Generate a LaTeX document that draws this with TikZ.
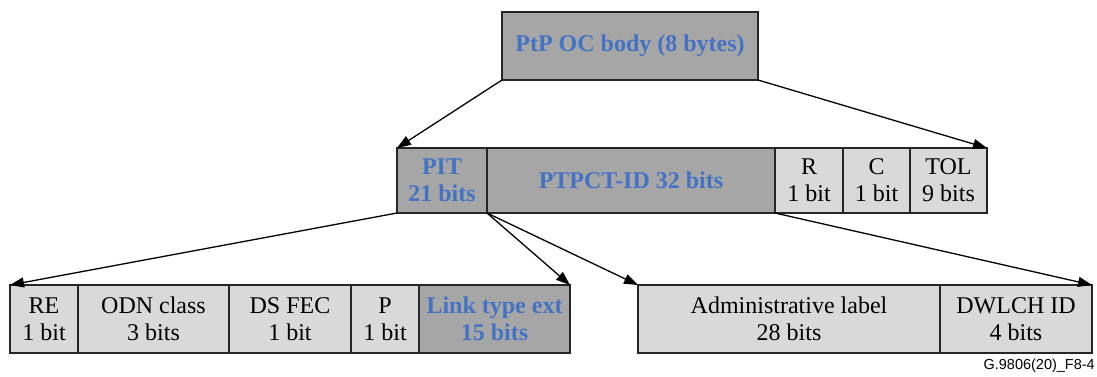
\documentclass[tikz,border=0pt]{standalone}
\usepackage{fontspec}
\setmainfont{Liberation Serif}
\newfontfamily\labelfont{Liberation Sans}
\usetikzlibrary{arrows.meta}
\definecolor{darkfld}{HTML}{A6A6A6}
\definecolor{lightfld}{HTML}{D9D9D9}
\definecolor{bluetxt}{HTML}{4472C4}
\begin{document}
\begin{tikzpicture}[x=1pt,y=-1pt,
  fld/.style={draw=black!85, line width=1.3pt, inner sep=0pt, outer sep=0pt,
    anchor=north west, align=center, font=\fontsize{24}{27}\selectfont},
  darkf/.style={fld, fill=darkfld, text=bluetxt, font=\fontsize{24}{27}\selectfont\bfseries},
  lightf/.style={fld, fill=lightfld, text=black},
  conn/.style={draw=black, line width=1.3pt, -{Triangle[length=14pt,width=10pt]}}
]
\useasboundingbox (0,0) rectangle (1097,376);
% top
\node[darkf, minimum width=256pt, minimum height=68pt] (top) at (502,12) {PtP OC body (8 bytes)};
% middle row
\node[darkf, minimum width=90pt, minimum height=65pt] (pit) at (397,148) {PIT\\21 bits};
\node[darkf, minimum width=288pt, minimum height=65pt] (ptpct) at (487,148) {PTPCT-ID 32 bits};
\node[lightf, minimum width=68pt, minimum height=65pt] (r) at (775,148) {R\\1 bit};
\node[lightf, minimum width=67pt, minimum height=65pt] (c) at (843,148) {C\\1 bit};
\node[lightf, minimum width=77pt, minimum height=65pt] (tol) at (910,148) {TOL\\9 bits};
% bottom row left
\node[lightf, minimum width=68pt, minimum height=68pt] (re) at (10,285) {RE\\1 bit};
\node[lightf, minimum width=151pt, minimum height=68pt] (odn) at (78,285) {ODN class\\3 bits};
\node[lightf, minimum width=122pt, minimum height=68pt] (dsfec) at (229,285) {DS FEC\\1 bit};
\node[lightf, minimum width=68pt, minimum height=68pt] (p) at (351,285) {P\\1 bit};
\node[darkf, minimum width=151pt, minimum height=68pt] (link) at (419,285) {Link type ext\\15 bits};
% bottom row right
\node[lightf, minimum width=302pt, minimum height=68pt] (admin) at (638,285) {Administrative label\\28 bits};
\node[lightf, minimum width=152pt, minimum height=68pt] (dwlch) at (940,285) {DWLCH ID\\4 bits};
% figure label
\node[anchor=east, inner sep=0pt, font=\labelfont\fontsize{14.5}{16}\selectfont] (figlabel) at (1095,366) {G.9806(20)\_F8-4};
% connectors
\draw[conn] (top.south west) -- (pit.north west);
\draw[conn] (top.south east) -- (tol.north east);
\draw[conn] (pit.south west) -- (re.north west);
\draw[conn] (pit.south east) -- (link.north east);
\draw[conn] (pit.south east) -- (admin.north west);
\draw[conn] (ptpct.south east) -- (dwlch.north east);
\end{tikzpicture}
\end{document}
